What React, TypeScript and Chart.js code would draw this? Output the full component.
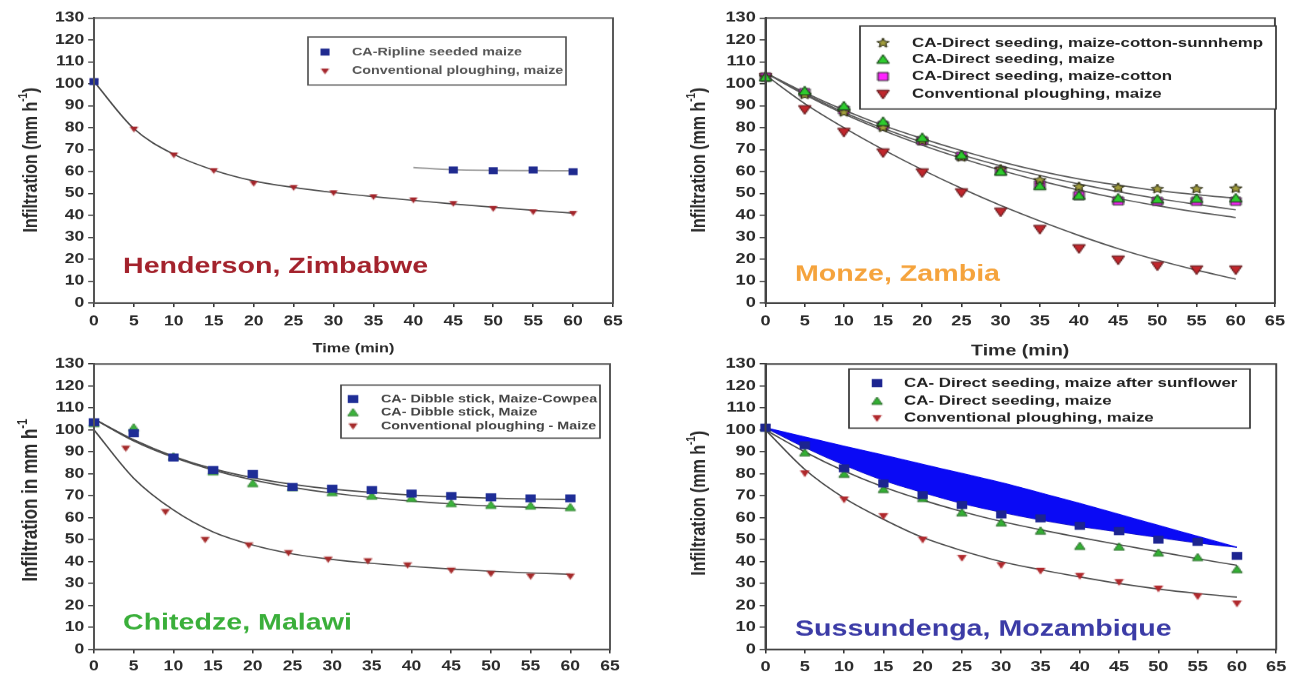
import React, { useEffect, useRef } from 'react';
import { Chart, registerables } from 'chart.js';

Chart.register(...registerables);

// The original figure is stretched horizontally; each canvas is drawn narrower and widened by CSS.
const STRETCH = 1.3;
const FONT = "'Liberation Sans', Arial, Helvetica, sans-serif";

// ---------------- data ----------------
const minutes = [0, 5, 10, 15, 20, 25, 30, 35, 40, 45, 50, 55, 60];
const xAxisMax = 65;
const xAxisStep = 5;
const yAxisMax = 130;
const yAxisStep = 10;

// Henderson, Zimbabwe
const hendersonLabels = ['CA-Ripline seeded maize', 'Conventional ploughing, maize'];
const hendersonRiplineMinutes = [0, 45, 50, 55, 60];
const hendersonRipline = [101, 60.7, 60.4, 60.7, 59.9];
const hendersonRiplineFitMinutes = [40, 45, 50, 55, 60];
const hendersonRiplineFit = [61.8, 60.8, 60.5, 60.4, 60.3];
const hendersonConventional = [101, 79.3, 67.5, 60.4, 54.6, 52.7, 50.3, 48.5, 47, 45.4, 43.1, 41.6, 40.9];
const hendersonConventionalFit = [101, 79.5, 67.8, 60.6, 55.7, 52.7, 50.4, 48.5, 46.8, 45.2, 43.7, 42.3, 41];

// Monze, Zambia
const monzeLabels = [
  'CA-Direct seeding, maize-cotton-sunnhemp',
  'CA-Direct seeding, maize',
  'CA-Direct seeding, maize-cotton',
  'Conventional ploughing, maize',
];
const monzeSunnhemp = [103, 95, 87, 80, 74, 66.5, 61, 56, 53, 52.6, 52, 52, 52.2];
const monzeMaize = [103, 96.7, 89.8, 82.7, 75.4, 67.5, 60, 53.4, 49, 47.8, 47.3, 47.6, 47.8];
const monzeCotton = [103, 96, 88, 81, 74, 67, 60.3, 54, 49, 46.6, 46.4, 46.4, 46.4];
const monzeConventional = [103, 88.3, 78, 68.6, 59.5, 50.4, 41.6, 33.7, 24.9, 19.7, 17, 15.2, 15.2];
const monzeSunnhempFit = [105, 96, 88, 81, 75, 69.5, 64.5, 60.2, 56.6, 53.8, 51.3, 49.4, 47.8];
const monzeMaizeFit = [105, 95.5, 87, 79.7, 73.3, 67.6, 62.6, 58.2, 54.3, 50.8, 47.7, 45, 42.5];
const monzeCottonFit = [105, 95, 86.3, 78.7, 72, 66, 60.6, 55.8, 51.5, 47.7, 44.4, 41.5, 39];
const monzeConventionalFit = [104, 91, 80, 70, 60.8, 52.3, 44.5, 37.4, 30.8, 24.8, 19.6, 15, 10.9];

// Chitedze, Malawi
const chitedzeLabels = ['CA- Dibble stick, Maize-Cowpea', 'CA- Dibble stick, Maize', 'Conventional ploughing - Maize'];
const chitedzeCowpea = [103.5, 98.5, 87.4, 81.7, 79.9, 74, 73.2, 72.6, 71, 69.9, 69.3, 68.8, 68.8];
const chitedzeMaize = [103, 101, 87.8, 81, 75.6, 73.8, 71.5, 69.9, 68.8, 66.5, 65.7, 65.4, 64.7];
const chitedzeConventionalMinutes = [4, 9, 14, 19.5, 24.5, 29.5, 34.5, 39.5, 45, 50, 55, 60];
const chitedzeConventional = [91.6, 62.7, 50, 47.5, 44, 41, 40.3, 38.4, 36, 34.5, 33.3, 33.3];
const chitedzeCowpeaFit = [105, 95.5, 88, 82.3, 78.2, 75.2, 73, 71.5, 70.3, 69.5, 68.9, 68.5, 68.3];
const chitedzeMaizeFit = [105, 95, 87.5, 81.7, 77.2, 73.8, 71.2, 69.2, 67.6, 66.3, 65.3, 64.7, 64.2];
const chitedzeConventionalFit = [100, 78, 63.5, 53.5, 47.5, 43.5, 41, 39.2, 37.8, 36.6, 35.6, 34.8, 34.2];

// Sussundenga, Mozambique
const sussundengaLabels = [
  'CA- Direct seeding, maize after sunflower',
  'CA- Direct seeding, maize',
  'Conventional ploughing, maize',
];
const sussSunflower = [101, 93, 82.5, 75.6, 70.3, 65.8, 61.5, 59.7, 56.3, 53.9, 50, 49, 42.6];
const sussMaize = [101, 89.6, 79.9, 72.9, 68.8, 62.3, 57.7, 54, 47, 46.7, 44, 41.9, 36.4];
const sussConventional = [101, 80.2, 68.3, 60.7, 50, 41.7, 38.4, 35.8, 33.5, 30.7, 27.7, 24.2, 20.9];
const sussSunflowerBandUpper = [101, 96.8, 92.6, 88.5, 84.3, 80.2, 76, 71.3, 66.5, 61.5, 56.5, 51.5, 46.5];
const sussSunflowerBandLower = [101, 92, 84, 77, 71.5, 66.5, 62.5, 59, 56, 53.5, 51, 48.5, 46.5];
const sussMaizeFit = [100, 90, 81.3, 74, 68, 62.8, 58.3, 54.5, 51, 47.7, 44.5, 41.3, 38.3];
const sussConventionalFit = [100, 82, 69, 59.3, 51, 45, 40, 36.3, 33, 30, 27.5, 25.5, 23.8];

// ---------------- helpers ----------------
type Shape = 'square' | 'tri' | 'tridown' | 'star';

function makeMarker(shape: Shape, size: number, fill: string, stroke: string | null, lw = 1): HTMLCanvasElement {
  const pad = 2;
  const d = Math.ceil(size + pad * 2);
  const c = document.createElement('canvas');
  c.width = d;
  c.height = d;
  const ctx = c.getContext('2d')!;
  const cx = d / 2;
  const cy = d / 2;
  const r = size / 2;
  ctx.beginPath();
  if (shape === 'square') {
    ctx.rect(cx - r, cy - r, size, size);
  } else if (shape === 'tri') {
    ctx.moveTo(cx, cy - r);
    ctx.lineTo(cx + r, cy + r * 0.8);
    ctx.lineTo(cx - r, cy + r * 0.8);
    ctx.closePath();
  } else if (shape === 'tridown') {
    ctx.moveTo(cx, cy + r);
    ctx.lineTo(cx + r, cy - r * 0.8);
    ctx.lineTo(cx - r, cy - r * 0.8);
    ctx.closePath();
  } else {
    for (let i = 0; i < 10; i++) {
      const a = -Math.PI / 2 + (i * Math.PI) / 5;
      const rad = i % 2 === 0 ? r : r * 0.45;
      const px = cx + Math.cos(a) * rad;
      const py = cy + Math.sin(a) * rad;
      if (i === 0) ctx.moveTo(px, py);
      else ctx.lineTo(px, py);
    }
    ctx.closePath();
  }
  ctx.fillStyle = fill;
  ctx.fill();
  if (stroke) {
    ctx.lineWidth = lw;
    ctx.strokeStyle = stroke;
    ctx.stroke();
  }
  return c;
}

const toPoints = (xs: number[], ys: number[]) => xs.map((x, i) => ({ x, y: ys[i] }));

const pts = (xs: number[], ys: number[], marker: HTMLCanvasElement) => ({
  data: toPoints(xs, ys),
  showLine: false,
  pointStyle: marker,
  pointRadius: 4,
  pointHoverRadius: 4,
  borderWidth: 0,
  borderColor: 'rgba(0,0,0,0)',
  backgroundColor: 'rgba(0,0,0,0)',
  clip: false,
});

const fit = (xs: number[], ys: number[], color: string, width = 1.3, extra: any = {}) => ({
  data: toPoints(xs, ys),
  showLine: true,
  pointRadius: 0,
  borderColor: color,
  borderWidth: width,
  cubicInterpolationMode: 'monotone',
  fill: false,
  clip: false,
  ...extra,
});

type Geom = { cx: number; cy: number; W: number; H: number; L: number; T: number; R: number; B: number };

type OverlaySpec = {
  place: { text: string; x: number; y: number; color: string; size: number };
  yTitle: { main: string; sup: string; tail: string; x: number; y: number; size: number };
  legend: {
    box: [number, number, number, number];
    rows: number[];
    markerX: number;
    textX: number;
    size: number;
    color: string;
    border: string;
    items: { marker: HTMLCanvasElement; label: string }[];
  };
  frameColor: string;
};

function overlayPlugin(g: Geom, s: OverlaySpec) {
  const lx = (px: number) => (px - g.cx) / STRETCH;
  const ly = (py: number) => py - g.cy;
  return {
    id: 'overlay',
    afterDraw(chart: any) {
      const ctx: CanvasRenderingContext2D = chart.ctx;
      const a = chart.chartArea;
      ctx.save();
      // plot frame
      ctx.strokeStyle = s.frameColor;
      ctx.lineWidth = 1.5;
      ctx.strokeRect(a.left, a.top, a.right - a.left, a.bottom - a.top);

      // site label
      ctx.font = `bold ${s.place.size}px ${FONT}`;
      ctx.fillStyle = s.place.color;
      ctx.textAlign = 'left';
      ctx.textBaseline = 'alphabetic';
      ctx.fillText(s.place.text, lx(s.place.x), ly(s.place.y));

      // y-axis title with superscript
      const t = s.yTitle;
      ctx.save();
      ctx.translate(lx(t.x), ly(t.y));
      ctx.rotate(-Math.PI / 2);
      ctx.fillStyle = '#2a2a2a';
      ctx.textBaseline = 'middle';
      const f1 = `bold ${t.size}px ${FONT}`;
      const f2 = `bold ${Math.round(t.size * 0.65)}px ${FONT}`;
      ctx.font = f1;
      const w1 = ctx.measureText(t.main).width;
      const w3 = ctx.measureText(t.tail).width;
      ctx.font = f2;
      const w2 = ctx.measureText(t.sup).width;
      const x0 = -(w1 + w2 + w3) / 2;
      ctx.font = f1;
      ctx.fillText(t.main, x0, 0);
      ctx.font = f2;
      ctx.fillText(t.sup, x0 + w1, -t.size * 0.38);
      ctx.font = f1;
      ctx.fillText(t.tail, x0 + w1 + w2, 0);
      ctx.restore();

      // legend box
      const lg = s.legend;
      const bx = lx(lg.box[0]);
      const by = ly(lg.box[1]);
      const bw = lx(lg.box[2]) - bx;
      const bh = ly(lg.box[3]) - by;
      ctx.fillStyle = '#ffffff';
      ctx.fillRect(bx, by, bw, bh);
      ctx.strokeStyle = lg.border;
      ctx.lineWidth = 1.3;
      ctx.strokeRect(bx, by, bw, bh);
      ctx.font = `bold ${lg.size}px ${FONT}`;
      ctx.fillStyle = lg.color;
      ctx.textAlign = 'left';
      ctx.textBaseline = 'middle';
      lg.items.forEach((it, i) => {
        const y = ly(lg.rows[i]);
        ctx.drawImage(it.marker, lx(lg.markerX) - it.marker.width / 2, y - it.marker.height / 2);
        ctx.fillText(it.label, lx(lg.textX), y);
      });
      ctx.restore();
    },
  };
}

type AxisOpts = {
  tickSize: number;
  xTickPad: number;
  xTitle: { text: string; size: number; padBottom: number } | null;
};

function buildConfig(g: Geom, datasets: any[], o: AxisOpts, overlay: any) {
  const w = Math.round(g.W / STRETCH);
  const l = (g.L - g.cx) / STRETCH;
  const r = (g.R - g.cx) / STRETCH;
  const top = g.T - g.cy;
  const bottom = g.B - g.cy;
  const tickFont = { family: FONT, size: o.tickSize, weight: 'bold' as const };
  return {
    type: 'line' as const,
    data: { datasets },
    options: {
      responsive: false,
      animation: false as const,
      devicePixelRatio: STRETCH,
      events: [],
      layout: { padding: { left: 0, top, right: w - r, bottom: 0 } },
      plugins: { legend: { display: false }, tooltip: { enabled: false }, title: { display: false } },
      scales: {
        x: {
          type: 'linear' as const,
          min: 0,
          max: xAxisMax,
          ticks: { stepSize: xAxisStep, autoSkip: false, maxRotation: 0, font: tickFont, color: '#2a2a2a', padding: o.xTickPad },
          grid: { drawOnChartArea: false, drawTicks: true, tickLength: 4, color: '#333', lineWidth: 1.2 },
          border: { display: true, color: '#333', width: 1.5 },
          title: o.xTitle
            ? {
                display: true,
                text: o.xTitle.text,
                color: '#2a2a2a',
                font: { family: FONT, size: o.xTitle.size, weight: 'bold' as const },
                padding: { top: 0, bottom: o.xTitle.padBottom },
              }
            : { display: false },
          afterFit: (s: any) => {
            s.height = g.H - bottom;
          },
        },
        y: {
          type: 'linear' as const,
          min: 0,
          max: yAxisMax,
          ticks: { stepSize: yAxisStep, autoSkip: false, font: tickFont, color: '#2a2a2a', padding: 3 },
          grid: { drawOnChartArea: false, drawTicks: true, tickLength: 4.5, color: '#333', lineWidth: 1.2 },
          border: { display: true, color: '#333', width: 1.5 },
          title: { display: false },
          afterFit: (s: any) => {
            s.width = l;
          },
        },
      },
    },
    plugins: [overlay],
  };
}

// ---------------- panels ----------------
const geomTL: Geom = { cx: 0, cy: 0, W: 650, H: 360, L: 94, T: 18, R: 613, B: 303 };
const geomTR: Geom = { cx: 650, cy: 0, W: 643, H: 360, L: 765.5, T: 18, R: 1282, B: 303 };
const geomBL: Geom = { cx: 0, cy: 340, W: 650, H: 335, L: 94, T: 364, R: 610, B: 649 };
const geomBR: Geom = { cx: 650, cy: 340, W: 643, H: 335, L: 765.5, T: 364, R: 1281, B: 649 };

function configTL() {
  const sq = makeMarker('square', 7, '#1f2a8f', null);
  const tri = makeMarker('tridown', 6.5, '#a3242a', null);
  const datasets = [
    pts(hendersonRiplineMinutes, hendersonRipline, sq),
    pts(minutes, hendersonConventional, tri),
    fit(hendersonRiplineFitMinutes, hendersonRiplineFit, '#9a9a9a', 1.5),
    fit(minutes, hendersonConventionalFit, '#4a4a4a', 1.3),
  ];
  const overlay = overlayPlugin(geomTL, {
    place: { text: 'Henderson, Zimbabwe', x: 123, y: 273, color: '#a3222c', size: 22 },
    yTitle: { main: 'Infiltration (mm h', sup: '-1', tail: ')', x: 31, y: 160, size: 16 },
    legend: {
      box: [308, 37, 566, 85],
      rows: [52, 71],
      markerX: 325,
      textX: 352,
      size: 11,
      color: '#555',
      border: '#555',
      items: [
        { marker: sq, label: hendersonLabels[0] },
        { marker: tri, label: hendersonLabels[1] },
      ],
    },
    frameColor: '#555',
  });
  return buildConfig(geomTL, datasets, { tickSize: 13.5, xTickPad: 6.5, xTitle: { text: 'Time (min)', size: 12.5, padBottom: 4 } }, overlay);
}

function configTR() {
  const star = makeMarker('star', 10, '#a09c3c', '#2a2a10', 1);
  const tri = makeMarker('tri', 9.5, '#2ecc2e', '#124012', 1);
  const sq = makeMarker('square', 8, '#ff22ff', '#303030', 1);
  const down = makeMarker('tridown', 9.5, '#c0262c', '#5a0e10', 1);
  const datasets = [
    pts(minutes, monzeMaize, tri),
    pts(minutes, monzeSunnhemp, star),
    pts(minutes, monzeCotton, sq),
    pts(minutes, monzeConventional, down),
    fit(minutes, monzeSunnhempFit, '#5a5a5a', 1.3),
    fit(minutes, monzeMaizeFit, '#5a5a5a', 1.3),
    fit(minutes, monzeCottonFit, '#5a5a5a', 1.3),
    fit(minutes, monzeConventionalFit, '#555', 1.3),
  ];
  const overlay = overlayPlugin(geomTR, {
    place: { text: 'Monze, Zambia', x: 795, y: 281, color: '#f5a33c', size: 22 },
    yTitle: { main: 'Infiltration (mm h', sup: '-1', tail: ')', x: 699, y: 160, size: 16 },
    legend: {
      box: [860, 26, 1276, 109],
      rows: [43, 59.5, 76.5, 94],
      markerX: 883,
      textX: 912,
      size: 13,
      color: '#222',
      border: '#333',
      items: [
        { marker: star, label: monzeLabels[0] },
        { marker: tri, label: monzeLabels[1] },
        { marker: sq, label: monzeLabels[2] },
        { marker: down, label: monzeLabels[3] },
      ],
    },
    frameColor: '#444',
  });
  return buildConfig(geomTR, datasets, { tickSize: 14, xTickPad: 6.5, xTitle: { text: 'Time (min)', size: 15, padBottom: 0 } }, overlay);
}

function configBL() {
  const sq = makeMarker('square', 8, '#1e2d96', null);
  const tri = makeMarker('tri', 8, '#3cb43c', '#2a7a2a', 0.8);
  const down = makeMarker('tridown', 7, '#a52a2a', null);
  const datasets = [
    pts(minutes, chitedzeCowpea, sq),
    pts(minutes, chitedzeMaize, tri),
    pts(chitedzeConventionalMinutes, chitedzeConventional, down),
    fit(minutes, chitedzeCowpeaFit, '#4a4a4a', 1.3),
    fit(minutes, chitedzeMaizeFit, '#4a4a4a', 1.3),
    fit(minutes, chitedzeConventionalFit, '#4a4a4a', 1.3),
  ];
  const overlay = overlayPlugin(geomBL, {
    place: { text: 'Chitedze, Malawi', x: 123, y: 629, color: '#3aaf3a', size: 22 },
    yTitle: { main: 'Infiltration in mm h', sup: '-1', tail: '', x: 31, y: 500, size: 17 },
    legend: {
      box: [341, 385, 600, 438],
      rows: [399, 412.5, 426],
      markerX: 353,
      textX: 381,
      size: 11,
      color: '#444',
      border: '#444',
      items: [
        { marker: sq, label: chitedzeLabels[0] },
        { marker: tri, label: chitedzeLabels[1] },
        { marker: down, label: chitedzeLabels[2] },
      ],
    },
    frameColor: '#555',
  });
  return buildConfig(geomBL, datasets, { tickSize: 13.5, xTickPad: 5, xTitle: null }, overlay);
}

function configBR() {
  const sq = makeMarker('square', 8, '#1c2490', null);
  const tri = makeMarker('tri', 8, '#33b033', '#206020', 0.8);
  const down = makeMarker('tridown', 7.5, '#b0282c', null);
  const datasets = [
    pts(minutes, sussSunflower, sq),
    pts(minutes, sussMaize, tri),
    pts(minutes, sussConventional, down),
    fit(minutes, sussMaizeFit, '#4a4a4a', 1.3),
    fit(minutes, sussConventionalFit, '#4a4a4a', 1.3),
    fit(minutes, sussSunflowerBandUpper, '#0a0af0', 1, { fill: '+1', backgroundColor: '#0a0af5' }),
    fit(minutes, sussSunflowerBandLower, '#1a1ab0', 1),
  ];
  const overlay = overlayPlugin(geomBR, {
    place: { text: 'Sussundenga, Mozambique', x: 795, y: 635, color: '#3b3ba6', size: 22 },
    yTitle: { main: 'Infiltration (mm h', sup: '-1', tail: ')', x: 699, y: 503, size: 16 },
    legend: {
      box: [849, 369, 1250, 428],
      rows: [383, 401, 418],
      markerX: 877,
      textX: 904,
      size: 13,
      color: '#222',
      border: '#333',
      items: [
        { marker: sq, label: sussundengaLabels[0] },
        { marker: tri, label: sussundengaLabels[1] },
        { marker: down, label: sussundengaLabels[2] },
      ],
    },
    frameColor: '#444',
  });
  return buildConfig(geomBR, datasets, { tickSize: 14, xTickPad: 5.5, xTitle: null }, overlay);
}

function Panel({ g, make }: { g: Geom; make: () => any }) {
  const ref = useRef<HTMLCanvasElement>(null);
  useEffect(() => {
    const chart = new Chart(ref.current as HTMLCanvasElement, make());
    return () => chart.destroy();
  }, []);
  return (
    <canvas
      ref={ref}
      width={Math.round(g.W / STRETCH)}
      height={g.H}
      style={{ position: 'absolute', left: g.cx, top: g.cy, width: g.W, height: g.H }}
    />
  );
}

export default function App() {
  return (
    <div style={{ position: 'absolute', left: 0, top: 0, width: 1293, height: 675, background: '#ffffff', overflow: 'hidden' }}>
      <Panel g={geomTL} make={configTL} />
      <Panel g={geomTR} make={configTR} />
      <Panel g={geomBL} make={configBL} />
      <Panel g={geomBR} make={configBR} />
    </div>
  );
}
